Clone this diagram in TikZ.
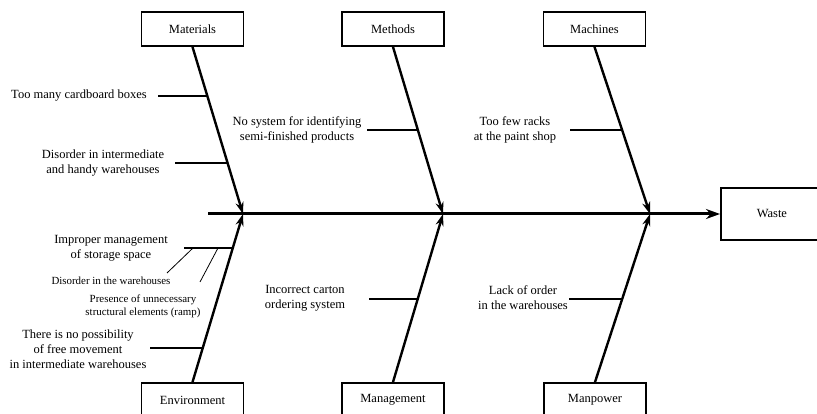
\documentclass[tikz,border=0pt]{standalone}
\usepackage{fontspec}
\setmainfont{Liberation Serif}
\usetikzlibrary{arrows.meta,calc}

\tikzset{
  cat/.style={draw, line width=1.8pt, minimum width=102pt, minimum height=34pt,
              inner sep=0pt, font=\fontsize{12.5}{15}\selectfont},
  cause/.style={align=center, inner sep=0pt, font=\fontsize{12.5}{15}\selectfont},
  smallcause/.style={align=center, inner sep=0pt, font=\fontsize{10.9}{13}\selectfont},
  bone/.style={line width=2.4pt, -{Stealth[length=12pt,width=8pt]}},
  spine/.style={line width=3pt, -{Stealth[length=14pt,width=10pt]}},
  twig/.style={line width=1.5pt},
  sprig/.style={line width=0.8pt}
}

\begin{document}
\begin{tikzpicture}[x=1pt,y=-1pt]
  \useasboundingbox (0,0) rectangle (817,414);
  \clip (0,0) rectangle (817,414);

  % category boxes
  \node[cat] (mat) at (192.5,29) {Materials};
  \node[cat] (met) at (393,29) {Methods};
  \node[cat] (mac) at (594.5,29) {Machines};
  \node[cat] (env) at (192.5,400) {Environment};
  \node[cat] (man) at (393,400) {Management};
  \node[cat] (mpw) at (595,400) {Manpower};
  % effect box, running off the right edge
  \node[cat, minimum width=110pt, minimum height=52pt, anchor=west] (waste) at (720,214)
    {Waste\hspace*{8pt}};

  % points where the bones meet the spine
  \coordinate (jmat) at (243,214);
  \coordinate (jmet) at (443,214);
  \coordinate (jmac) at (650,214);
  \coordinate (spinestart) at (208,214);

  % spine and bones
  \draw[spine] (spinestart) -- (waste.west);
  \draw[bone] (mat.south) -- (jmat);
  \draw[bone] (met.south) -- (jmet);
  \draw[bone] (mac.south) -- (jmac);
  \draw[bone] (env.north) -- (jmat);
  \draw[bone] (man.north) -- (jmet);
  \draw[bone] (mpw.north) -- (jmac);

  % points on the bones for the causes
  \coordinate (bm1) at ($(mat.south)!0.298!(jmat)$);
  \coordinate (bm2) at ($(mat.south)!0.696!(jmat)$);
  \coordinate (bt1) at ($(met.south)!0.5!(jmet)$);
  \coordinate (bc1) at ($(mac.south)!0.5!(jmac)$);
  \coordinate (be1) at ($(env.north)!0.799!(jmat)$);
  \coordinate (be2) at ($(env.north)!0.207!(jmat)$);
  \coordinate (bg1) at ($(man.north)!0.497!(jmet)$);
  \coordinate (bp1) at ($(mpw.north)!0.497!(jmac)$);

  % cause texts
  \node[cause] (c1) at (79,96) {Too many cardboard boxes};
  \node[cause] (c2) at (103,163) {Disorder in intermediate\\and handy warehouses};
  \node[cause] (c3) at (297,130) {No system for identifying\\semi-finished products};
  \node[cause] (c4) at (515,130) {Too few racks\\at the paint shop};
  \node[cause] (c5) at (305,298) {Incorrect carton\\ordering system};
  \node[cause] (c6) at (523,298) {Lack of order\\in the warehouses};
  \node[cause] (c7) at (111,248) {Improper management\\of storage space};
  \node[smallcause] (c8) at (111,281) {Disorder in the warehouses};
  \node[smallcause] (c9) at (143,306.5) {Presence of unnecessary\\structural elements (ramp)};
  \node[cause] (c10) at (78,349) {There is no possibility\\of free movement\\in intermediate warehouses};

  % free ends of the cause lines
  \coordinate (s1) at (158,96);
  \coordinate (s2) at (175,163);
  \coordinate (s3) at (367,130);
  \coordinate (s4) at (570,130);
  \coordinate (s5) at (369,299);
  \coordinate (s6) at (569,299);
  \coordinate (s7) at (184,248);
  \coordinate (s10) at (150,348);

  \draw[twig] (s1) -- (s1 -| bm1);
  \draw[twig] (s2) -- (s2 -| bm2);
  \draw[twig] (s3) -- (s3 -| bt1);
  \draw[twig] (s4) -- (s4 -| bc1);
  \draw[twig] (s5) -- (s5 -| bg1);
  \draw[twig] (s6) -- (s6 -| bp1);
  \draw[twig] (s7) -- (s7 -| be1);
  \draw[twig] (s10) -- (s10 -| be2);

  % sub-causes branching off the storage-space line
  \coordinate (d1) at (193,248);
  \coordinate (d1end) at (167,273);
  \coordinate (d2) at (218,248);
  \coordinate (d2end) at (200,282);
  \draw[sprig] (d1) -- (d1end);
  \draw[sprig] (d2) -- (d2end);
\end{tikzpicture}
\end{document}
